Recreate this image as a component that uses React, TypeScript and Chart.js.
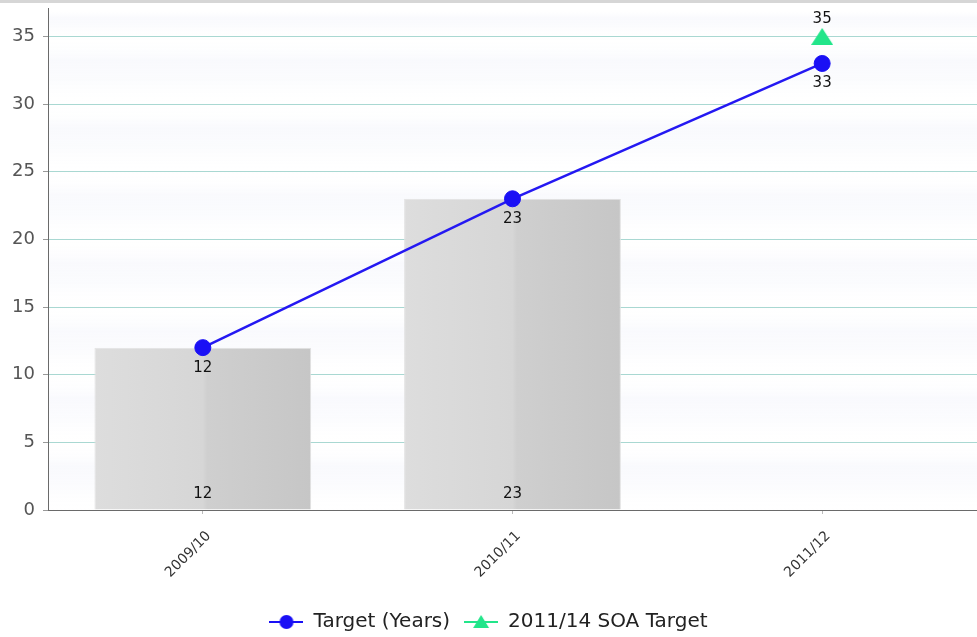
import React, { useEffect, useRef } from "react";
import { Chart, registerables } from "chart.js";

Chart.register(...registerables);

const categories = ["2009/10", "2010/11", "2011/12"];
const barValues = [12, 23, null];
const targetYears = [12, 23, 33];
const soaTarget = [null, null, 35];
const yMin = 0;
const yMax = 37.1;
const yStep = 5;
const seriesNames = ["Target (Years)", "2011/14 SOA Target"];

const FONT = "'DejaVu Sans', Verdana, sans-serif";
const BLUE = "#1a10f5";
const GREEN = "#22e58a";

function makeIcon(color: string, kind: "circle" | "triangle"): HTMLCanvasElement {
  const c = document.createElement("canvas");
  c.width = 34;
  c.height = 16;
  const g = c.getContext("2d")!;
  g.strokeStyle = color;
  g.lineWidth = 2;
  g.beginPath();
  g.moveTo(0, 8);
  g.lineTo(34, 8);
  g.stroke();
  g.fillStyle = color;
  g.beginPath();
  if (kind === "circle") {
    g.arc(17, 8, 7, 0, Math.PI * 2);
  } else {
    g.moveTo(17, 1);
    g.lineTo(25, 14);
    g.lineTo(9, 14);
    g.closePath();
  }
  g.fill();
  return c;
}

function makeTriangle(color: string): HTMLCanvasElement {
  const c = document.createElement("canvas");
  c.width = 22;
  c.height = 17;
  const g = c.getContext("2d")!;
  g.fillStyle = color;
  g.beginPath();
  g.moveTo(11, 0);
  g.lineTo(22, 17);
  g.lineTo(0, 17);
  g.closePath();
  g.fill();
  return c;
}

const backgroundPlugin = {
  id: "bgPlugin",
  beforeDraw(chart: any) {
    const { ctx, chartArea, width, scales } = chart;
    ctx.save();
    ctx.fillStyle = "#d6d6d6";
    ctx.fillRect(0, 0, width, 3);
    if (chartArea && scales.y) {
      const y = scales.y;
      for (let v = yMin; v < yMax; v += yStep) {
        const top = y.getPixelForValue(Math.min(v + yStep, yMax));
        const bot = y.getPixelForValue(v);
        const g = ctx.createLinearGradient(0, top, 0, bot);
        g.addColorStop(0, "rgba(255,255,255,0)");
        g.addColorStop(0.35, "rgba(238,240,250,0.35)");
        g.addColorStop(0.65, "rgba(242,244,251,0.3)");
        g.addColorStop(1, "rgba(255,255,255,0)");
        ctx.fillStyle = g;
        ctx.fillRect(chartArea.left, top, chartArea.right - chartArea.left, bot - top);
      }
    }
    ctx.restore();
  },
};

const valueLabelPlugin = {
  id: "valueLabels",
  afterDatasetsDraw(chart: any) {
    const ctx = chart.ctx;
    ctx.save();
    ctx.font = `15px ${FONT}`;
    ctx.fillStyle = "#111";
    ctx.textAlign = "center";
    ctx.textBaseline = "middle";
    chart.data.datasets.forEach((ds: any, di: number) => {
      const meta = chart.getDatasetMeta(di);
      meta.data.forEach((el: any, i: number) => {
        const v = ds.data[i];
        if (v == null) return;
        let y: number;
        if (di === 0) y = el.base - 15;
        else if (di === 2) y = el.y - 17;
        else y = el.y + 20;
        ctx.fillText(String(v), el.x, y);
      });
    });
    ctx.restore();
  },
};

export default function App() {
  const ref = useRef<HTMLCanvasElement | null>(null);

  useEffect(() => {
    if (!ref.current) return;
    const blueIcon = makeIcon(BLUE, "circle");
    const greenIcon = makeIcon(GREEN, "triangle");
    const triangle = makeTriangle(GREEN);

    const chart = new Chart(ref.current, {
      type: "bar",
      data: {
        labels: categories,
        datasets: [
          {
            type: "bar",
            label: "bars",
            data: barValues as any,
            order: 2,
            barPercentage: 0.7,
            categoryPercentage: 1,
            borderWidth: 1,
            borderColor: "#e2e2e2",
            backgroundColor: (context: any) => {
              const chart = context.chart;
              const { ctx, chartArea, scales } = chart;
              if (!chartArea || !scales.x) return "#d2d2d2";
              const cx = scales.x.getPixelForValue(context.dataIndex);
              const half = (scales.x.width / categories.length) * 0.35;
              const g = ctx.createLinearGradient(cx - half, 0, cx + half, 0);
              g.addColorStop(0, "#dddddd");
              g.addColorStop(0.5, "#d6d6d6");
              g.addColorStop(0.52, "#cfcfcf");
              g.addColorStop(1, "#c6c6c6");
              return g;
            },
          } as any,
          {
            type: "line",
            label: seriesNames[0],
            data: targetYears,
            order: 1,
            borderColor: "#2418f2",
            backgroundColor: BLUE,
            borderWidth: 2.5,
            pointRadius: 8,
            pointBorderWidth: 1,
            pointBorderColor: BLUE,
            pointBackgroundColor: BLUE,
            tension: 0,
          } as any,
          {
            type: "line",
            label: seriesNames[1],
            data: soaTarget as any,
            order: 0,
            showLine: false,
            pointStyle: triangle,
            pointRadius: 11,
            pointBorderWidth: 0,
            pointBackgroundColor: GREEN,
            borderColor: GREEN,
            backgroundColor: GREEN,
          } as any,
        ],
      },
      options: {
        animation: false,
        responsive: false,
        maintainAspectRatio: false,
        layout: { autoPadding: false, padding: { top: 8, left: 0, right: 0, bottom: -5 } },
        plugins: {
          tooltip: { enabled: false },
          legend: {
            position: "bottom",
            labels: {
              usePointStyle: true,
              pointStyleWidth: 34,
              padding: 14,
              color: "#222",
              font: { family: FONT, size: 20 },
              generateLabels: () => [
                {
                  text: seriesNames[0],
                  pointStyle: blueIcon,
                  fillStyle: BLUE,
                  strokeStyle: BLUE,
                  lineWidth: 0,
                  hidden: false,
                  datasetIndex: 1,
                  fontColor: "#222",
                } as any,
                {
                  text: seriesNames[1],
                  pointStyle: greenIcon,
                  fillStyle: GREEN,
                  strokeStyle: GREEN,
                  lineWidth: 0,
                  hidden: false,
                  datasetIndex: 2,
                  fontColor: "#222",
                } as any,
              ],
            },
          },
        },
        scales: {
          x: {
            offset: true,
            border: { display: true, color: "#6a6a6a", width: 1 },
            grid: {
              display: true,
              drawOnChartArea: false,
              offset: false,
              tickLength: 4,
              tickColor: "#bbbbbb",
            },
            ticks: {
              minRotation: 45,
              maxRotation: 45,
              color: "#333",
              padding: 14,
              labelOffset: 6,
              font: { family: FONT, size: 14 },
            },
            afterFit: (scale: any) => {
              const legendH = scale.chart.legend ? scale.chart.legend.height : 40;
              scale.height = scale.chart.height + 5 - legendH - 510;
              scale.paddingLeft = 0;
              scale.paddingRight = 0;
            },
          },
          y: {
            min: yMin,
            max: yMax,
            border: { display: true, color: "#6a6a6a", width: 1 },
            grid: {
              color: "#a9d8d2",
              lineWidth: 1,
              tickLength: 5,
              tickColor: "#999999",
              drawTicks: true,
            },
            ticks: {
              stepSize: yStep,
              color: "#555",
              padding: 8,
              font: { family: FONT, size: 18 },
            },
            afterBuildTicks: (scale: any) => {
              scale.ticks = scale.ticks.filter((t: any) => t.value % yStep === 0);
            },
            afterFit: (scale: any) => {
              scale.width = 48;
              scale.paddingTop = 0;
              scale.paddingBottom = 0;
            },
          },
        },
      },
      plugins: [backgroundPlugin, valueLabelPlugin],
    } as any);

    return () => chart.destroy();
  }, []);

  return (
    <div style={{ position: "fixed", left: 0, top: 0, width: 977, height: 637, background: "#fff" }}>
      <canvas ref={ref} width={977} height={637} style={{ width: 977, height: 637, display: "block" }} />
    </div>
  );
}
